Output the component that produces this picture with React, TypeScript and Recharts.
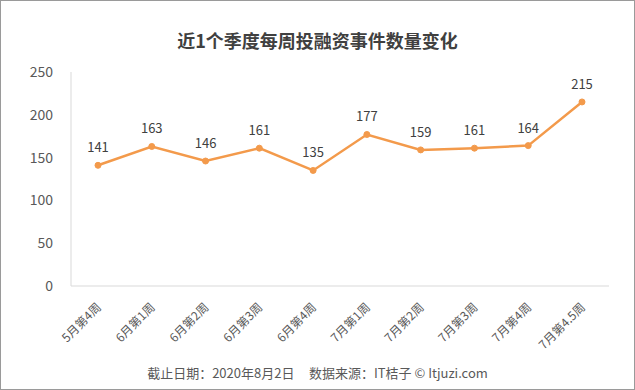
import { LineChart, Line, XAxis, YAxis, LabelList } from "recharts";

const WEEKS = ["5月第4周", "6月第1周", "6月第2周", "6月第3周", "6月第4周", "7月第1周", "7月第2周", "7月第3周", "7月第4周", "7月第4.5周"];
const EVENTS = [141, 163, 146, 161, 135, 177, 159, 161, 164, 215];
const Y_TICKS = [0, 50, 100, 150, 200, 250];

const FONT = '"Noto Sans CJK SC", "Noto Sans", sans-serif';
const ORANGE = "#F39A4B";

function WeekTick({ x, y, payload }: any) {
  return (
    <text
      x={x + 4}
      y={y + 14}
      textAnchor="end"
      transform={`rotate(-45 ${x + 4} ${y + 14})`}
      fontSize={12}
      fill="#595959"
      fontFamily={FONT}
    >
      {payload.value}
    </text>
  );
}

export default function App() {
  const data = WEEKS.map((week, i) => ({ week, count: EVENTS[i] }));

  return (
    <div
      style={{
        position: "absolute",
        left: 0,
        top: 0,
        width: 635,
        height: 390,
        boxSizing: "border-box",
        border: "1px solid #9a9a9a",
        background: "#fff",
        fontFamily: FONT,
      }}
    >
      <div
        style={{
          position: "absolute",
          top: 26,
          left: 0,
          width: 633,
          textAlign: "center",
          fontSize: 18,
          lineHeight: "26px",
          fontWeight: "bold",
          color: "#404040",
        }}
      >
        近1个季度每周投融资事件数量变化
      </div>
      <div style={{ position: "absolute", top: -1, left: -1 }}>
        <LineChart width={635} height={390} data={data} margin={{ top: 72, right: 26, left: 31, bottom: 0 }}>
          <XAxis
            dataKey="week"
            height={104}
            tick={<WeekTick />}
            tickLine={false}
            axisLine={{ stroke: "#d9d9d9" }}
            interval={0}
            padding={{ left: 27, right: 27 }}
          />
          <YAxis
            width={40}
            domain={[0, 250]}
            ticks={Y_TICKS}
            tickLine={false}
            axisLine={{ stroke: "#d9d9d9" }}
            tick={{ fontSize: 14, fill: "#595959", fontFamily: FONT }}
            tickMargin={12}
          />
          <Line
            type="linear"
            dataKey="count"
            stroke={ORANGE}
            strokeWidth={2.5}
            dot={{ r: 3, fill: ORANGE, stroke: ORANGE, strokeWidth: 1 }}
            isAnimationActive={false}
          >
            <LabelList dataKey="count" position="top" offset={13} fontSize={13} fill="#404040" fontFamily={FONT} />
          </Line>
        </LineChart>
      </div>
      <div
        style={{
          position: "absolute",
          top: 363,
          left: 0,
          width: 633,
          textAlign: "center",
          fontSize: 13,
          lineHeight: "18px",
          color: "#595959",
          whiteSpace: "pre",
        }}
      >
        {"截止日期：2020年8月2日     数据来源：IT桔子 © Itjuzi.com"}
      </div>
    </div>
  );
}
